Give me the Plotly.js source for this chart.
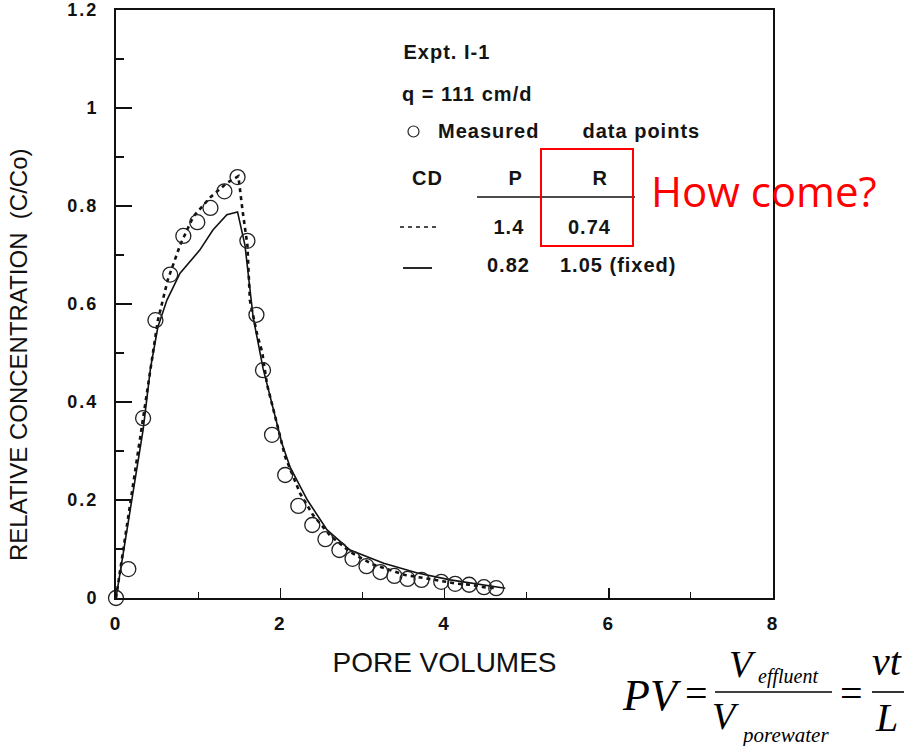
<!DOCTYPE html>
<html>
<head>
<meta charset="utf-8">
<script src="https://cdn.plot.ly/plotly-3.0.1.min.js"></script>
<style>
  html, body { margin: 0; padding: 0; background: #fff; }
  #chart { width: 909px; height: 746px; }
  g.xtick text, g.ytick text { letter-spacing: 2px; }
</style>
</head>
<body>
<div id="chart"></div>
<script>
// ---- data ----
const xTickVals = [0, 2, 4, 6, 8];
const xTickText = ['0', '2', '4', '6', '8'];
const yTickVals = [0, 0.2, 0.4, 0.6, 0.8, 1, 1.2];
const yTickText = ['0', '0.2', '0.4', '0.6', '0.8', '1', '1.2'];

const measuredX = [0, 0.15, 0.33, 0.48, 0.66, 0.82, 0.99, 1.15, 1.32, 1.48, 1.60, 1.71, 1.79, 1.90, 2.06, 2.22, 2.39, 2.55, 2.72, 2.88, 3.05, 3.22, 3.39, 3.55, 3.72, 3.96, 4.13, 4.30, 4.48, 4.63];
const measuredY = [0, 0.059, 0.367, 0.567, 0.66, 0.739, 0.767, 0.796, 0.83, 0.859, 0.729, 0.578, 0.465, 0.333, 0.251, 0.188, 0.149, 0.120, 0.098, 0.080, 0.065, 0.053, 0.045, 0.039, 0.037, 0.033, 0.029, 0.027, 0.022, 0.020];

// CD fit P = 1.4, R = 0.74 (dashed)
const cdDashX = [0, 0.17, 0.26, 0.42, 0.51, 0.63, 0.78, 0.94, 1.15, 1.35, 1.49, 1.54, 1.60, 1.63, 1.72, 1.78, 1.84, 1.94, 2.06, 2.24, 2.40, 2.61, 2.85, 3.12, 3.34, 3.52, 3.74, 3.99, 4.16, 4.32, 4.48, 4.63];
const cdDashY = [0, 0.19, 0.292, 0.465, 0.567, 0.649, 0.720, 0.778, 0.818, 0.847, 0.861, 0.792, 0.720, 0.608, 0.537, 0.502, 0.435, 0.369, 0.288, 0.214, 0.169, 0.127, 0.094, 0.069, 0.057, 0.047, 0.041, 0.033, 0.029, 0.027, 0.022, 0.020];

// CD fit P = 0.82, R = 1.05 fixed (solid)
const cdSolidX = [0, 0.17, 0.33, 0.42, 0.51, 0.62, 0.78, 1.02, 1.18, 1.35, 1.48, 1.57, 1.67, 1.79, 1.92, 2.02, 2.12, 2.33, 2.57, 2.85, 3.26, 3.67, 4.07, 4.48, 4.74];
const cdSolidY = [0, 0.180, 0.343, 0.469, 0.553, 0.608, 0.663, 0.710, 0.751, 0.782, 0.788, 0.720, 0.573, 0.469, 0.384, 0.316, 0.267, 0.200, 0.139, 0.098, 0.071, 0.051, 0.037, 0.027, 0.020];

const legendTitle = 'Expt. I-1';
const legendFlow = 'q = 111 cm/d';
const legendMeasured = ['Measured', 'data points'];
const legendHeader = ['CD', 'P', 'R'];
const legendDashRow = ['1.4', '0.74'];
const legendSolidRow = ['0.82', '1.05 (fixed)'];
const noteText = 'How come?';
const yTitle = 'RELATIVE CONCENTRATION \u00a0(C/Co)';
const xTitle = 'PORE VOLUMES';

// ---- pixel helpers for layout placement ----
const L = 116, R = 773, T = 10, B = 598;
const W = R - L, H = B - T;
const px = v => (v - L) / W;      // page x -> paper
const py = v => (B - v) / H;      // page y -> paper

const black = '#111';
const sans = 'Liberation Sans, Arial, Helvetica, sans-serif';
const sansBold = { family: sans, size: 20, color: '#141414', weight: 'bold' };
const serif = 'Liberation Serif, Times New Roman, serif';

const traces = [
  { x: cdSolidX, y: cdSolidY, mode: 'lines', type: 'scatter', name: 'CD P=0.82 R=1.05',
    line: { color: black, width: 1.6 }, hoverinfo: 'skip' },
  { x: cdDashX, y: cdDashY, mode: 'lines', type: 'scatter', name: 'CD P=1.4 R=0.74',
    line: { color: black, width: 2.6, dash: '4px,4px' }, hoverinfo: 'skip' },
  { x: measuredX, y: measuredY, mode: 'markers', type: 'scatter', name: 'Measured data points',
    cliponaxis: false,
    marker: { symbol: 'circle-open', size: 15, color: '#222', line: { width: 1.3, color: '#222' } } }
];

function ann(text, xPage, yPage, opts) {
  return Object.assign({
    text: text, xref: 'paper', yref: 'paper', x: px(xPage), y: py(yPage),
    xanchor: 'left', yanchor: 'middle', showarrow: false,
    font: sansBold
  }, opts || {});
}

const legendAnnotations = [
  ann(legendTitle, 406, 52),
  ann(legendFlow, 406, 94),
  ann(legendMeasured[0], 440, 131),
  ann(legendMeasured[1], 586, 131),
  ann(legendHeader[0], 411, 178),
  ann(legendHeader[1], 515, 178, { xanchor: 'center' }),
  ann(legendHeader[2], 600, 178, { xanchor: 'center' }),
  ann(legendDashRow[0], 509, 227, { xanchor: 'center' }),
  ann(legendDashRow[1], 590, 227, { xanchor: 'center' }),
  ann(legendSolidRow[0], 508, 265, { xanchor: 'center' }),
  ann(legendSolidRow[1], 564, 265)
];

const otherAnnotations = [
  ann(noteText, 649, 190, { font: { family: 'Open Sans, Noto Sans, sans-serif', size: 42, color: '#ff0000' } }),
  ann(yTitle, 18, 355, { xanchor: 'center', textangle: -90, font: { family: sans, size: 24, color: black } }),
  // formula PV = V_effluent / V_porewater = vt / L
  ann('<i>PV</i>', 652, 695, { xanchor: 'center', font: { family: serif, size: 44, color: '#000' } }),
  ann('=', 696, 693, { xanchor: 'center', font: { family: serif, size: 40, color: '#000' } }),
  ann('<i>V</i>', 742, 664, { xanchor: 'center', font: { family: serif, size: 38, color: '#000' } }),
  ann('<i>effluent</i>', 756, 676, { font: { family: serif, size: 20, color: '#000' } }),
  ann('<i>V</i>', 725, 716, { xanchor: 'center', font: { family: serif, size: 38, color: '#000' } }),
  ann('<i>porewater</i>', 739, 735, { font: { family: serif, size: 21, color: '#000' } }),
  ann('=', 851, 693, { xanchor: 'center', font: { family: serif, size: 40, color: '#000' } }),
  ann('<i>vt</i>', 887, 662, { xanchor: 'center', font: { family: serif, size: 40, color: '#000' } }),
  ann('<i>L</i>', 886, 717, { xanchor: 'center', font: { family: serif, size: 40, color: '#000' } })
];

const annotations = legendAnnotations.concat(otherAnnotations);

// letter spacing for the typewriter-like legend text
(function () {
  const css = legendAnnotations.map((a, i) => 'g.annotation[data-index="' + i + '"] text').join(',') +
    ' { letter-spacing: 1px; }';
  const st = document.createElement('style');
  st.textContent = css;
  document.head.appendChild(st);
})();

const shapes = [
  // legend circle
  { type: 'circle', xref: 'paper', yref: 'paper', x0: px(408), x1: px(419), y0: py(126), y1: py(137),
    line: { color: '#222', width: 1.2 } },
  // underline of P R header
  { type: 'line', xref: 'paper', yref: 'paper', x0: px(477), x1: px(635), y0: py(197), y1: py(197),
    line: { color: black, width: 1.5 } },
  // dashed sample
  { type: 'line', xref: 'paper', yref: 'paper', x0: px(400), x1: px(440), y0: py(227), y1: py(227),
    line: { color: black, width: 1.5, dash: '4px,4px' } },
  // solid sample
  { type: 'line', xref: 'paper', yref: 'paper', x0: px(403), x1: px(432), y0: py(268), y1: py(268),
    line: { color: black, width: 1.8 } },
  // red box
  { type: 'rect', xref: 'paper', yref: 'paper', x0: px(541), x1: px(633), y0: py(246), y1: py(149),
    line: { color: '#ff0000', width: 2 } },
  // fraction bars
  { type: 'line', xref: 'paper', yref: 'paper', x0: px(715), x1: px(832), y0: py(692), y1: py(692),
    line: { color: '#000', width: 1.6 } },
  { type: 'line', xref: 'paper', yref: 'paper', x0: px(872), x1: px(904), y0: py(692), y1: py(692),
    line: { color: '#000', width: 1.6 } }
];

const layout = {
  width: 909, height: 746,
  margin: { l: L, r: 909 - R, t: T, b: 746 - B },
  paper_bgcolor: '#fff', plot_bgcolor: '#fff',
  showlegend: false,
  xaxis: {
    range: [0, 8], tickvals: xTickVals, ticktext: xTickText,
    ticks: 'inside', ticklen: 10, tickwidth: 1.5, tickcolor: black,
    minor: { dtick: 1, ticks: 'inside', ticklen: 6, tickwidth: 1.2, tickcolor: black },
    showline: true, linecolor: black, linewidth: 2, mirror: true,
    showgrid: false, zeroline: false,
    tickfont: { family: sans, size: 19, color: black, weight: 'bold' },
    ticklabelstandoff: 7,
    title: { text: xTitle, font: { family: sans, size: 28, color: black }, standoff: 20 }
  },
  yaxis: {
    range: [0, 1.2], tickvals: yTickVals, ticktext: yTickText,
    ticks: 'inside', ticklen: 16, tickwidth: 1.5, tickcolor: black,
    minor: { dtick: 0.1, ticks: 'inside', ticklen: 8, tickwidth: 1.2, tickcolor: black },
    showline: true, linecolor: black, linewidth: 2, mirror: true,
    showgrid: false, zeroline: false,
    tickfont: { family: sans, size: 18, color: black, weight: 'bold' },
    ticklabeloverflow: 'allow',
    ticklabelstandoff: 12
  },
  annotations: annotations,
  shapes: shapes
};

Plotly.newPlot('chart', traces, layout, { displayModeBar: false, staticPlot: true });
</script>
</body>
</html>
